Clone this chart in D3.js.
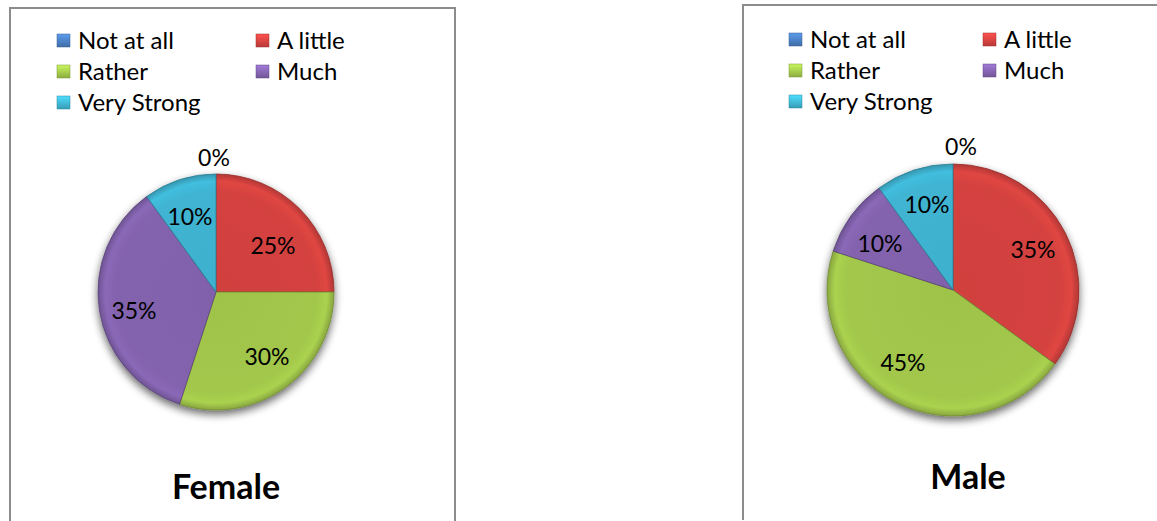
<!DOCTYPE html>
<html><head><meta charset="utf-8">
<script src="https://cdn.jsdelivr.net/npm/d3@7"></script>
<style>
body{margin:0;background:#fff;}
svg{display:block;font-family:Lato,"Open Sans",sans-serif;}
</style></head>
<body><svg id="c" width="1157" height="521"></svg>
<script>
const categories = ["Not at all","A little","Rather","Much","Very Strong"];
const femaleValues = [0,25,30,35,10];
const maleValues = [0,35,45,10,10];
const panelTitles = ["Female","Male"];
const colors = ["#4A7EC0","#D4423F","#A2C74B","#8363AE","#3FB4D2"];

const svg = d3.select("#c");
const defs = svg.append("defs");
colors.forEach((c,i)=>{
  const lg = defs.append("linearGradient").attr("id","l"+i).attr("x1","0").attr("y1","0").attr("x2","0").attr("y2","1");
  lg.append("stop").attr("offset","0%").attr("stop-color",d3.color(c).brighter(0.6));
  lg.append("stop").attr("offset","100%").attr("stop-color",d3.color(c).darker(0.4));
});
const f = defs.append("filter").attr("id","sh").attr("x","-20%").attr("y","-20%").attr("width","140%").attr("height","150%");
f.append("feGaussianBlur").attr("in","SourceAlpha").attr("stdDeviation",4);
f.append("feOffset").attr("dx",0).attr("dy",4).attr("result","b");
f.append("feComponentTransfer").attr("in","b").attr("result","b2").append("feFuncA").attr("type","linear").attr("slope",0.6);
const fm = f.append("feMerge"); fm.append("feMergeNode").attr("in","b2"); fm.append("feMergeNode").attr("in","SourceGraphic");

const panels = [
  {values:femaleValues,title:panelTitles[0],box:[10,8,445,520],legX:57,legX2:256,legY:41,cx:216,cy:292,r:118,titleX:226,titleY:499,
   labels:[[214,158],[273,246],[267,357],[134,311],[190,217]]},
  {values:maleValues,title:panelTitles[1],box:[743,5,420,515],legX:789,legX2:983,legY:40,cx:953,cy:290,r:126,titleX:968,titleY:489,
   labels:[[961,147],[1033,250],[903,363],[880,244],[927,205]]}
];

const pie = d3.pie().sort(null).value(d=>d);
panels.forEach((p,pi)=>{
  colors.forEach((c,i)=>{
    const g = defs.append("radialGradient").attr("id",`g${pi}_${i}`).attr("gradientUnits","userSpaceOnUse")
      .attr("cx",0).attr("cy",0).attr("r",p.r);
    g.append("stop").attr("offset","0%").attr("stop-color",d3.color(c).darker(0.05));
    g.append("stop").attr("offset","85%").attr("stop-color",c);
    g.append("stop").attr("offset","94%").attr("stop-color",d3.color(c).brighter(0.15));
    g.append("stop").attr("offset","100%").attr("stop-color",d3.color(c).darker(0.5));
  });
  const [bx,by,bw,bh]=p.box;
  svg.append("path").attr("d",`M${bx},${by+bh}V${by}H${bx+bw}V${by+bh}`)
    .attr("fill","none").attr("stroke","#8c8c8c").attr("stroke-width",2);
  categories.forEach((c,i)=>{
    const col = i%2, row = Math.floor(i/2);
    const x = col===0?p.legX:p.legX2, y = p.legY + row*31;
    svg.append("rect").attr("x",x).attr("y",y-7).attr("width",13).attr("height",13)
      .attr("fill",`url(#l${i})`).attr("stroke",d3.color(colors[i]).darker(0.8)).attr("stroke-width",0.5);
    svg.append("text").attr("x",x+21).attr("y",y+8).attr("font-size",24).attr("fill","#000").text(c);
  });
  const arc = d3.arc().innerRadius(0).outerRadius(p.r);
  const g = svg.append("g").attr("transform",`translate(${p.cx},${p.cy})`).attr("filter","url(#sh)");
  const arcs = pie(p.values);
  g.selectAll("path").data(arcs).join("path").attr("d",arc)
    .attr("fill",(d,i)=>`url(#g${pi}_${i})`).attr("stroke",(d,i)=>d3.color(colors[i]).darker(1)).attr("stroke-width",0.8)
    .attr("stroke-linejoin","round");
  const tot = d3.sum(p.values);
  arcs.forEach((d,i)=>{
    svg.append("text").attr("x",p.labels[i][0]).attr("y",p.labels[i][1]+8).attr("text-anchor","middle")
      .attr("font-size",23).attr("fill","#000").text(Math.round(d.data/tot*100)+"%");
  });
  svg.append("text").attr("x",p.titleX).attr("y",p.titleY).attr("text-anchor","middle")
    .attr("font-size",34).attr("font-weight","bold").attr("fill","#000").text(p.title);
});
</script></body></html>
